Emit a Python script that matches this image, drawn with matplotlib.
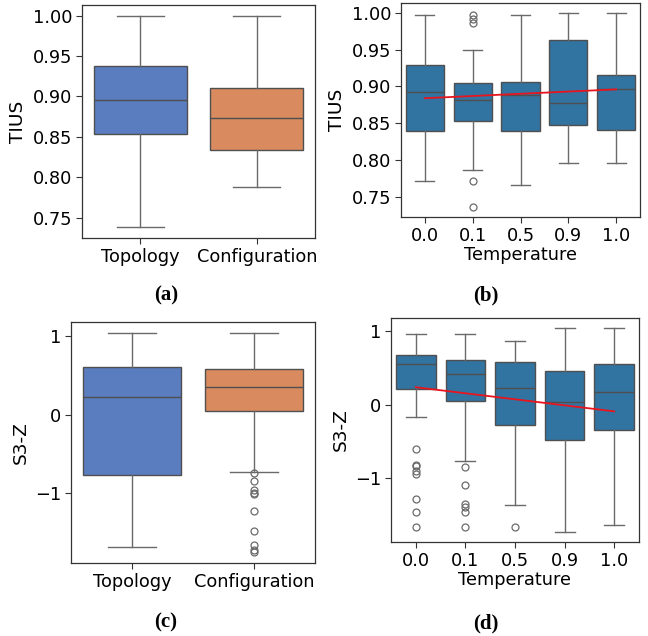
import matplotlib
matplotlib.use("Agg")
import matplotlib.pyplot as plt
import colorsys
from matplotlib.colors import to_rgb

# ---------------- data ----------------
groups = ["Topology", "Configuration"]
temps = ["0.0", "0.1", "0.5", "0.9", "1.0"]

# (a) TIUS by group: whislo, q1, med, q3, whishi
tius_grp_whislo = [0.738, 0.788]
tius_grp_q1 = [0.854, 0.834]
tius_grp_med = [0.896, 0.873]
tius_grp_q3 = [0.938, 0.910]
tius_grp_whishi = [1.000, 1.000]
tius_grp_fliers = [[], []]

# (b) TIUS by temperature
tius_t_whislo = [0.771, 0.787, 0.766, 0.796, 0.796]
tius_t_q1 = [0.840, 0.853, 0.840, 0.847, 0.841]
tius_t_med = [0.893, 0.881, 0.889, 0.877, 0.896]
tius_t_q3 = [0.929, 0.904, 0.906, 0.963, 0.916]
tius_t_whishi = [0.997, 0.950, 0.997, 1.000, 1.000]
tius_t_fliers = [[], [0.997, 0.991, 0.986, 0.771, 0.736], [], [], []]
tius_trend = [0.884, 0.896]   # red line, value at first and last temperature

# (c) S3-Z by group
s3_grp_whislo = [-1.698, -0.728]
s3_grp_q1 = [-0.770, 0.051]
s3_grp_med = [0.221, 0.349]
s3_grp_q3 = [0.604, 0.579]
s3_grp_whishi = [1.043, 1.043]
s3_grp_fliers = [[], [-0.753, -0.855, -0.962, -1.000, -1.017, -1.230,
                      -1.494, -1.664, -1.736, -1.757]]

# (d) S3-Z by temperature
s3_t_whislo = [-0.173, -0.764, -1.364, -1.723, -1.636]
s3_t_q1 = [0.214, 0.055, -0.273, -0.477, -0.345]
s3_t_med = [0.545, 0.414, 0.232, 0.041, 0.168]
s3_t_q3 = [0.668, 0.605, 0.573, 0.459, 0.545]
s3_t_whishi = [0.959, 0.959, 0.868, 1.036, 1.036]
s3_t_fliers = [[-0.600, -0.818, -0.832, -0.905, -0.945, -1.277, -1.450, -1.664],
               [-0.850, -1.082, -1.350, -1.382, -1.450, -1.664],
               [-1.664], [], []]
s3_trend = [0.236, -0.091]

# ---------------- style ----------------
def desat(c, s=0.75):
    h, l, sat = colorsys.rgb_to_hls(*to_rgb(c))
    return colorsys.hls_to_rgb(h, l, sat * s)

pal_grp = [desat("#4878d0"), desat("#ee854a")]
pal_t = [desat("#1f77b4")] * 5
line_col = "#4f4f4f"
whisk_col = "#6a6a6a"

W, H = 648, 636
fig = plt.figure(figsize=(W / 100, H / 100), dpi=100)
FS = 12.8
plt.rcParams["font.family"] = ["DejaVu Sans"]

def add_ax(l, r, t, b):
    return fig.add_axes([l / W, 1 - b / H, (r - l) / W, (b - t) / H])

def draw(ax, labels, whislo, q1, med, q3, whishi, fliers, colors, ylabel,
         xlabel=None, trend=None):
    stats = []
    for i, lab in enumerate(labels):
        stats.append(dict(label=lab, whislo=whislo[i], q1=q1[i], med=med[i],
                          q3=q3[i], whishi=whishi[i], fliers=fliers[i]))
    pos = list(range(len(labels)))
    bp = ax.bxp(stats, positions=pos, widths=0.8, patch_artist=True,
                showfliers=True,
                boxprops=dict(edgecolor=line_col, linewidth=1.0),
                medianprops=dict(color=line_col, linewidth=1.0),
                whiskerprops=dict(color=whisk_col, linewidth=1.0),
                capprops=dict(color=whisk_col, linewidth=1.0),
                flierprops=dict(marker="o", markerfacecolor="none",
                                markeredgecolor=whisk_col, markersize=5,
                                markeredgewidth=0.9, linestyle="none"))
    for patch, c in zip(bp["boxes"], colors):
        patch.set_facecolor(c)
    for cap in bp["caps"]:
        x = cap.get_xdata()
        m = (x[0] + x[1]) / 2
        cap.set_xdata([m - 0.2, m + 0.2])
    if trend is not None:
        ax.plot([pos[0], pos[-1]], trend, color="#e8141e", linewidth=1.3,
                zorder=5)
    ax.set_xlim(-0.5, len(labels) - 0.5)
    ax.set_xticks(pos)
    ax.set_xticklabels(labels)
    ax.set_ylabel(ylabel, fontsize=FS + 0.5)
    if xlabel:
        ax.set_xlabel(xlabel, fontsize=FS, labelpad=1)
    ax.tick_params(labelsize=FS, length=4, width=0.8, color="#333333", pad=3)
    for s in ax.spines.values():
        s.set_color("#333333")
        s.set_linewidth(0.9)

ax_a = add_ax(82, 315, 5, 238)
draw(ax_a, groups, tius_grp_whislo, tius_grp_q1, tius_grp_med, tius_grp_q3,
     tius_grp_whishi, tius_grp_fliers, pal_grp, "TIUS")
ax_a.set_yticks([0.75, 0.80, 0.85, 0.90, 0.95, 1.00])
ax_a.set_yticklabels(["0.75", "0.80", "0.85", "0.90", "0.95", "1.00"])

ax_b = add_ax(401, 640, 3, 217)
draw(ax_b, temps, tius_t_whislo, tius_t_q1, tius_t_med, tius_t_q3,
     tius_t_whishi, tius_t_fliers, pal_t, "TIUS", "Temperature", tius_trend)
ax_b.set_yticks([0.75, 0.80, 0.85, 0.90, 0.95, 1.00])
ax_b.set_yticklabels(["0.75", "0.80", "0.85", "0.90", "0.95", "1.00"])

ax_c = add_ax(71, 315, 322, 563)
draw(ax_c, groups, s3_grp_whislo, s3_grp_q1, s3_grp_med, s3_grp_q3,
     s3_grp_whishi, s3_grp_fliers, pal_grp, "S3-Z")
ax_c.set_yticks([-1, 0, 1])

ax_d = add_ax(391, 639, 318, 542)
draw(ax_d, temps, s3_t_whislo, s3_t_q1, s3_t_med, s3_t_q3,
     s3_t_whishi, s3_t_fliers, pal_t, "S3-Z", "Temperature", s3_trend)
ax_d.set_yticks([-1, 0, 1])

for txt, x, y in [("(a)", 166, 295), ("(b)", 486, 295),
                  ("(c)", 166, 622), ("(d)", 486, 623)]:
    fig.text(x / W, 1 - y / H, txt, ha="center", va="center",
             fontsize=15, fontweight="bold", family="Liberation Serif")

fig.savefig("out.png", dpi=100)
